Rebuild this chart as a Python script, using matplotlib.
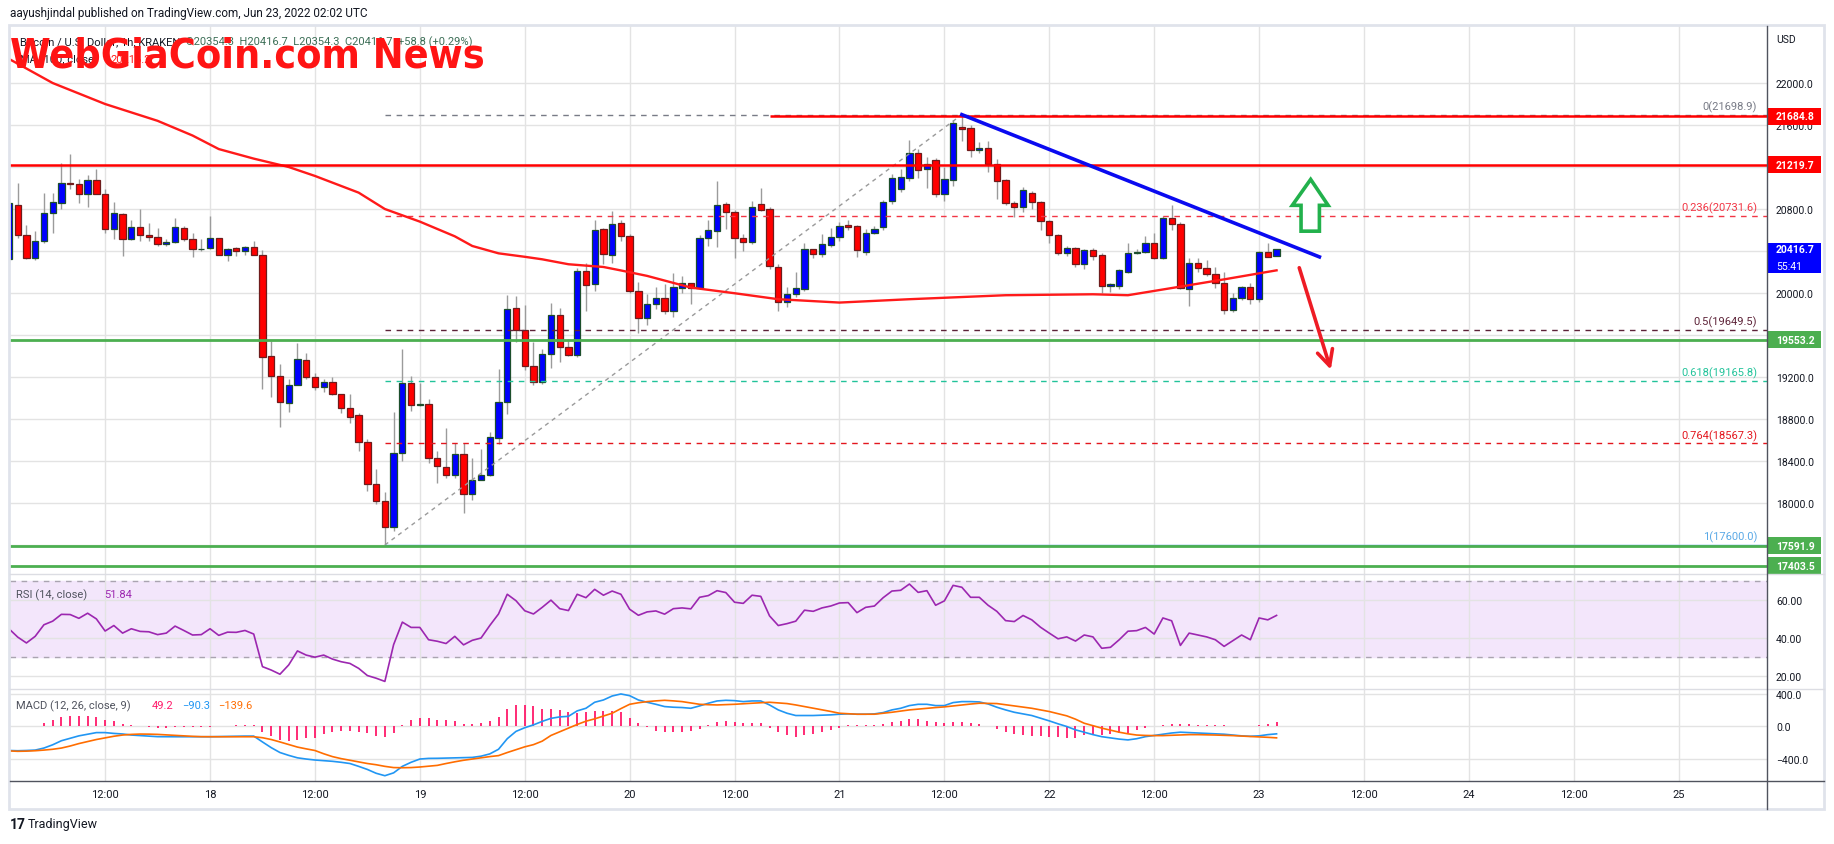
import matplotlib.pyplot as plt
import matplotlib.transforms as mtransforms
from matplotlib.patches import Rectangle, Polygon
from matplotlib.lines import Line2D
import numpy as np

W, H = 1834, 845

# ---------------- data (BTC/USD 1h, KRAKEN) ----------------
# x is hours counted from 18 Jun 2022 00:00, first candle = 17 Jun 01:00
first_hour = -23

opens = [20321, 20842, 20556, 20337, 20496, 20766, 20861, 21051, 21041, 20946,
         21077, 20946, 20613, 20756, 20512, 20632, 20550, 20537, 20464, 20489,
         20622, 20518, 20417, 20429, 20528, 20366, 20426, 20404, 20442, 20366,
         19401, 19210, 18957, 19125, 19360, 19201, 19106, 19157, 19042, 18909,
         18842, 18585, 18185, 18020, 17776, 18480, 19147, 18934, 18947, 18433,
         18347, 18268, 18465, 18090, 18220, 18268, 18623, 18966, 19858, 19648,
         19306, 19157, 19423, 19788, 19490, 19411, 20210, 20089, 20607, 20366,
         20670, 20543, 20020, 19760, 19893, 19956, 19829, 20052, 20093, 20045,
         20528, 20594, 20851, 20775, 20528, 20486, 20851, 20797, 20251, 19918,
         19994, 20036, 20416, 20375, 20458, 20537, 20651, 20639, 20394, 20575,
         20629, 20877, 20988, 21099, 21331, 21185, 21264, 20946, 21080, 21585,
         21575, 21362, 21385, 21226, 21077, 20861, 20820, 20956, 20870, 20686,
         20553, 20382, 20432, 20280, 20407, 20359, 20067, 20067, 20204, 20385,
         20394, 20480, 20337, 20712, 20661, 20036, 20290, 20242, 20185, 20099,
         19839, 19950, 20061, 19940, 20394, 20354.3]
closes = [20855, 20556, 20337, 20496, 20766, 20870, 21051, 21041, 20946, 21077,
          20946, 20613, 20766, 20518, 20632, 20550, 20537, 20464, 20489, 20632,
          20518, 20417, 20423, 20528, 20366, 20423, 20404, 20442, 20366, 19395,
          19210, 18963, 19125, 19376, 19201, 19106, 19157, 19042, 18909, 18820,
          18585, 18185, 18020, 17776, 18480, 19147, 18934, 18947, 18433, 18354,
          18268, 18465, 18090, 18220, 18268, 18633, 18966, 19852, 19648, 19306,
          19157, 19423, 19794, 19487, 19411, 20210, 20077, 20597, 20375, 20661,
          20543, 20020, 19760, 19893, 19956, 19829, 20061, 20093, 20045, 20528,
          20597, 20842, 20775, 20528, 20486, 20823, 20791, 20258, 19918, 19994,
          20052, 20416, 20375, 20471, 20537, 20639, 20632, 20410, 20575, 20613,
          20870, 21093, 21105, 21331, 21172, 21232, 20946, 21083, 21616, 21559,
          21362, 21385, 21226, 21067, 20855, 20823, 20978, 20870, 20686, 20553,
          20382, 20432, 20280, 20407, 20353, 20067, 20083, 20217, 20385, 20394,
          20474, 20337, 20712, 20661, 20045, 20290, 20242, 20185, 20099, 19839,
          19950, 20061, 19940, 20394, 20347, 20416.7]
highs = [20870, 21051, 20645, 20591, 20950, 20956, 21235, 21321, 21089, 21121,
         21185, 20994, 20870, 20760, 20696, 20804, 20664, 20616, 20512, 20718,
         20639, 20569, 20512, 20734, 20528, 20433, 20442, 20448, 20492, 20407,
         19544, 19322, 19179, 19528, 19433, 19242, 19179, 19204, 19042, 19042,
         18861, 18607, 18328, 18109, 18871, 19465, 19210, 19147, 18988, 18496,
         18719, 18576, 18576, 18433, 18519, 18681, 19274, 19982, 19972, 19883,
         19534, 19465, 19908, 19861, 19566, 20242, 20290, 20693, 20623, 20781,
         20700, 20560, 20105, 19990, 20060, 20090, 20190, 20160, 20100, 20550,
         20700, 21070, 20870, 20790, 20560, 20880, 21000, 20820, 20280, 20060,
         20200, 20480, 20420, 20560, 20620, 20680, 20700, 20650, 20610, 20640,
         20890, 21130, 21180, 21460, 21370, 21300, 21290, 21200, 21650, 21698.9,
         21600, 21440, 21450, 21280, 21090, 20880, 21010, 20970, 20880, 20700,
         20560, 20450, 20440, 20420, 20430, 20380, 20100, 20230, 20480, 20420,
         20540, 20570, 20730, 20840, 20680, 20330, 20330, 20310, 20250, 20200,
         20000, 20070, 20100, 20400, 20480, 20416.7]
lows = [20300, 20528, 20321, 20315, 20480, 20575, 20804, 20988, 20861, 20820,
        20940, 20575, 20518, 20353, 20505, 20496, 20496, 20448, 20448, 20480,
        20496, 20347, 20401, 20417, 20359, 20306, 20353, 20359, 20359, 19083,
        19010, 18725, 18868, 19125, 19179, 19077, 19058, 19026, 18861, 18766,
        18496, 18115, 17989, 17600, 17735, 18401, 18877, 18925, 18385, 18195,
        18242, 18242, 17909, 18030, 18220, 18258, 18560, 18845, 19534, 19268,
        19122, 19138, 19290, 19344, 19401, 19391, 19829, 20020, 20274, 20290,
        20500, 20004, 19623, 19700, 19850, 19800, 19770, 20000, 19900, 20040,
        20450, 20440, 20610, 20330, 20400, 20470, 20780, 20230, 19830, 19870,
        19960, 20020, 20330, 20340, 20440, 20500, 20600, 20340, 20360, 20560,
        20600, 20850, 20960, 21070, 21100, 21000, 20910, 20880, 21020, 21450,
        21300, 21330, 21150, 20900, 20840, 20720, 20770, 20800, 20600, 20480,
        20360, 20350, 20250, 20230, 20310, 20000, 20010, 20040, 20190, 20370,
        20380, 20320, 20320, 20600, 20040, 19880, 20200, 20160, 20050, 19800,
        19820, 19930, 19900, 19910, 20340, 20354.3]

# moving average (100, close), read at knots
ma_hours = [-23, -18, -12, -6, -2, 1, 5, 9, 12, 17, 20, 24, 28, 30, 33, 36, 38, 41,
            45, 47, 50, 55, 60, 65, 72, 80, 91, 101, 105, 111, 116, 122]
ma_values = [22230, 22000, 21800, 21640, 21500, 21371, 21280, 21200, 21115, 20956,
             20800, 20680, 20540, 20448, 20378, 20345, 20321, 20274, 20248, 20215,
             20163, 20052, 19998, 19941, 19909, 19941, 19979, 19988, 19979, 20061,
             20130, 20216]

rsi = [44.8, 40.4, 37.3, 40.8, 46.9, 48.8, 52.4, 52.3, 50.3, 53.0,
       50.0, 43.6, 46.5, 42.5, 44.8, 43.4, 43.2, 41.7, 42.5, 46.2,
       43.9, 41.5, 41.7, 44.8, 41.3, 43.0, 42.9, 43.9, 42.0, 24.8,
       23.0, 20.8, 25.7, 33.1, 30.9, 29.8, 30.9, 28.8, 27.4, 26.5,
       23.9, 20.1, 18.7, 17.0, 36.4, 48.3, 45.5, 45.5, 39.0, 38.2,
       37.0, 40.8, 36.3, 38.7, 39.9, 46.5, 52.6, 63.0, 59.6, 54.3,
       52.6, 56.1, 59.9, 55.4, 54.4, 63.0, 61.2, 65.6, 62.5, 64.7,
       63.0, 55.1, 51.9, 53.7, 54.2, 52.5, 55.4, 55.8, 55.3, 61.4,
       62.3, 64.9, 63.9, 58.8, 58.2, 62.5, 61.9, 51.6, 46.5, 47.5,
       48.8, 54.6, 54.0, 55.8, 56.8, 58.4, 58.6, 53.3, 56.1, 56.8,
       61.2, 64.7, 65.1, 68.4, 64.0, 64.9, 57.2, 59.5, 67.7, 66.7,
       61.4, 61.4, 57.2, 54.0, 49.1, 48.6, 51.8, 49.5, 45.6, 42.5,
       39.5, 40.5, 38.3, 41.5, 40.5, 34.5, 35.0, 39.0, 43.5, 43.8,
       45.5, 42.0, 50.5, 49.0, 36.0, 42.5, 41.5, 40.5, 39.0, 35.5,
       38.5, 41.5, 39.0, 50.5, 49.5, 51.84]

macd = [-295, -298, -295, -290, -265, -225, -175, -145, -115, -95,
        -75, -75, -85, -92, -105, -112, -118, -125, -126, -126,
        -126, -126, -126, -126, -124, -122, -120, -118, -118, -190,
        -260, -320, -355, -385, -400, -412, -420, -428, -440, -455,
        -490, -528, -575, -605, -570, -490, -440, -400, -392, -391,
        -388, -385, -382, -380, -365, -337, -280, -150, -60, -15,
        20, 63, 100, 118, 125, 192, 224, 298, 326, 375,
        400, 379, 326, 298, 273, 245, 237, 233, 224, 253,
        286, 314, 322, 318, 306, 314, 314, 265, 204, 163,
        135, 135, 135, 139, 143, 151, 155, 151, 151, 155,
        171, 204, 224, 257, 273, 273, 257, 257, 294, 306,
        306, 302, 277, 237, 204, 175, 155, 135, 102, 69,
        33, 0, -41, -70, -100, -125, -140, -155, -165, -150,
        -125, -110, -95, -80, -70, -75, -80, -85, -90, -95,
        -105, -115, -120, -115, -100, -90.3]
signal = [-300, -305, -303, -298, -290, -280, -265, -240, -210, -185,
          -160, -140, -120, -105, -97, -93, -94, -97, -103, -110,
          -116, -121, -125, -126, -126, -126, -126, -126, -126, -138,
          -160, -190, -222, -253, -275, -295, -335, -370, -395, -415,
          -435, -455, -470, -490, -505, -507, -505, -498, -488, -478,
          -455, -434, -415, -400, -385, -370, -358, -320, -285, -250,
          -223, -180, -110, -65, -20, 25, 65, 94, 128, 163,
          220, 273, 292, 306, 315, 322, 315, 306, 290, 273,
          268, 265, 269, 273, 280, 286, 292, 298, 290, 282,
          265, 245, 225, 204, 185, 163, 157, 151, 151, 151,
          163, 175, 190, 204, 214, 224, 233, 241, 253, 265,
          276, 286, 284, 282, 268, 253, 238, 224, 204, 184,
          158, 131, 90, 40, 10, -20, -45, -70, -90, -105,
          -110, -112, -112, -108, -103, -100, -100, -102, -105, -108,
          -112, -118, -123, -128, -133, -139.6]
hist = [2, 5, 5, 8, 42, 80, 114, 135, 135, 135,
        122, 84, 67, 34, 13, 4, -8, -13, -13, -4,
        -4, -4, -4, -4, 0, 4, 13, 13, 13, -72,
        -114, -160, -181, -168, -147, -139, -93, -67, -55, -51,
        -63, -80, -114, -126, -84, 17, 80, 109, 105, 84,
        76, 63, 34, 30, 42, 72, 118, 210, 261, 261,
        253, 219, 219, 198, 177, 168, 175, 190, 190, 192,
        175, 110, 41, -12, -53, -73, -73, -73, -61, -29,
        16, 53, 69, 53, 41, 41, 41, -20, -69, -110,
        -131, -102, -94, -69, -41, -16, 16, 20, 16, 20,
        33, 53, 69, 90, 90, 73, 53, 41, 53, 53,
        41, 29, 0, -33, -69, -90, -102, -114, -122, -131,
        -135, -139, -143, -110, -110, -105, -95, -85, -75, -45,
        -15, 2, 17, 28, 33, 25, 20, 17, 15, 13,
        7, 3, 3, 13, 33, 49.2]

# horizontal lines drawn on the chart
resistance = [21684.8, 21219.7]
supports = [19553.2, 17591.9, 17403.5]
fib_levels = [0, 0.236, 0.5, 0.618, 0.764, 1]
fib_prices = [21698.9, 20731.6, 19649.5, 19165.8, 18567.3, 17600.0]
fib_colors = ["#787b86", "#f23645", "#5d2338", "#22c39a", "#e3161e", "#5aa9e6"]
fib_from, fib_to = 20, 86          # swing low hour -> swing high hour
trend_hours = [86, 126.9]
trend_prices = [21698.9, 20344]

xticks = list(range(-12, 169, 12))
xtick_labels = ["12:00", "18", "12:00", "19", "12:00", "20", "12:00", "21", "12:00",
                "22", "12:00", "23", "12:00", "24", "12:00", "25"]

last_price = 20416.7
# ------------------------------------------------------------

opens, closes = np.array(opens), np.array(closes)
highs, lows = np.array(highs), np.array(lows)
hours = np.arange(first_hour, first_hour + len(opens))

plt.rcParams["font.family"] = ["Roboto", "DejaVu Sans"]
TXT = "#131722"
GRID = "#e3e3e3"


def box(x0, y0, x1, y1):
    return [x0 / W, 1 - y1 / H, (x1 - x0) / W, (y1 - y0) / H]


fig = plt.figure(figsize=(W / 100, H / 100), dpi=100)
ax = fig.add_axes(box(10, 27, 1767, 575))
ax_rsi = fig.add_axes(box(10, 575, 1767, 690), sharex=ax)
ax_macd = fig.add_axes(box(10, 690, 1767, 782), sharex=ax)

for a in (ax, ax_rsi, ax_macd):
    for s in a.spines.values():
        s.set_visible(False)
    a.yaxis.tick_right()
    a.tick_params(length=0, labelsize=7.5, labelcolor=TXT, pad=6.5)
    a.grid(True, color=GRID, lw=1)
    a.set_axisbelow(True)

ax.set_xlim(-22.88, 178.1)
ax.set_ylim(17324, 22543)
ax_rsi.set_ylim(13.0, 73.7)
ax_macd.set_ylim(-670, 461)

ax.set_xticks(xticks)
ax_macd.set_xticklabels(xtick_labels)
ax.tick_params(labelbottom=False)
ax_rsi.tick_params(labelbottom=False)
ax_macd.tick_params(axis="x", labelsize=8, pad=6)

ax.set_yticks(np.arange(17600, 22001, 400))
ax.yaxis.set_major_formatter(lambda v, p: f"{v:.1f}")
ax_rsi.set_yticks([20, 40, 60])
ax_rsi.set_yticklabels(["20.00", "40.00", "60.00"])
ax_macd.set_yticks([-400, 0, 400])
ax_macd.set_yticklabels(["\u2212400.0", "0.0", "400.0"])

# candles
up = closes >= opens
ax.vlines(hours, lows, highs, color="#9b9b9b", lw=1, zorder=2)
ax.bar(hours[up], (closes - opens)[up], bottom=opens[up], width=0.72,
       color="#0000ff", edgecolor="#1c4f2c", lw=0.9, zorder=3)
ax.bar(hours[~up], (closes - opens)[~up], bottom=opens[~up], width=0.72,
       color="#ff0000", edgecolor="#6e1c1c", lw=0.9, zorder=3)

ax.plot(ma_hours, ma_values, color="#ff1a1a", lw=1.7, zorder=4)

# support / resistance
ax.axhline(resistance[1], color="#ff0000", lw=1.8, zorder=4)
ax.hlines(resistance[0], 64, 178.1, color="#ff0000", lw=1.8, zorder=4)
for p in supports:
    ax.axhline(p, color="#4caf50", lw=2, zorder=4)

# fib retracement
ax.plot([fib_from, fib_to], [fib_prices[-1], fib_prices[0]], color="#9a9a9a",
        lw=1, ls=(0, (3, 3)), zorder=3)
for lvl, p, c in zip(fib_levels, fib_prices, fib_colors):
    ls = "-" if lvl == 1 else (0, (4, 4))
    ax.hlines(p, fib_from, 178.1, color=c, lw=1, linestyles=[ls], zorder=3.5)
    ax.annotate(f"{lvl:g}({p:.1f})", xy=(0.9943, p), xycoords=("axes fraction", "data"),
                xytext=(0, 2), textcoords="offset points", ha="right", va="bottom",
                color=c, fontsize=8)

# down-trend line and arrows
ax.plot(trend_hours, trend_prices, color="#0a0af0", lw=2.6, zorder=5)
up_arrow = [(125.9, 21082), (127.9, 20835), (126.9, 20835), (126.9, 20589),
            (124.8, 20589), (124.8, 20835), (123.8, 20835)]
ax.add_patch(Polygon(up_arrow, closed=True, fc="white", ec="#22b14c", lw=2.6, zorder=5))
ax.annotate("", xy=(128.3, 19245), xytext=(124.5, 20266),
            arrowprops=dict(arrowstyle="->", color="#ee1c25", lw=2.6, mutation_scale=28),
            zorder=5)

# price tags on the axis
tag_tr = mtransforms.blended_transform_factory(ax.transAxes, ax.transData)
px = (22543 - 17324) / 548.0


def price_tag(price, color, text=None, top=None, bottom=None):
    if top is None:
        top, bottom = price + 8.5 * px, price - 8.5 * px
    ax.add_patch(Rectangle((1.0, bottom), 0.0307, top - bottom, transform=tag_tr,
                           fc=color, ec="none", clip_on=False, zorder=6))
    ax.text(1.0051, price, text or f"{price:.1f}", transform=tag_tr, color="white",
            fontsize=7.5, fontweight="bold", va="center", ha="left", zorder=7, clip_on=False)


for p in resistance:
    price_tag(p, "#ff0000")
for p in supports:
    price_tag(p, "#4caf50")
price_tag(last_price, "#0000ff", top=last_price + 6.5 * px, bottom=last_price - 23.5 * px)
ax.text(1.0051, last_price - 17 * px, "55:41", transform=tag_tr, color="white",
        fontsize=7.5, va="center", ha="left", zorder=7, clip_on=False)

# RSI pane
ax_rsi.axhspan(30, 70, color="#f3e6fb", zorder=0)
for lvl in (30, 70):
    ax_rsi.axhline(lvl, color="#aaa4b0", lw=1, ls=(0, (4, 4)), zorder=1)
ax_rsi.plot(hours, rsi, color="#9c27b0", lw=1.2, zorder=3)

# MACD pane
ax_macd.vlines(hours, 0, hist, color="#ff1a6a", lw=1.3, zorder=2)
ax_macd.plot(hours, macd, color="#2196f3", lw=1.2, zorder=3)
ax_macd.plot(hours, signal, color="#ff6d00", lw=1.2, zorder=3)

# frame lines
def fline(x0, y0, x1, y1, **kw):
    fig.add_artist(Line2D([x0 / W, x1 / W], [1 - y0 / H, 1 - y1 / H], **kw))


fig.add_artist(Rectangle((9 / W, 1 - 810 / H), 1815 / W, 784 / H, fill=False,
                         ec="#e0e3eb", lw=2, transform=fig.transFigure))
fline(10, 575, 1824, 575, color="#dcdde3", lw=1)
fline(10, 690, 1824, 690, color="#dcdde3", lw=1)
fline(10, 782, 1824, 782, color="#50535e", lw=1)
fline(1767, 27, 1767, 810, color="#50535e", lw=1)

# texts
fig.text(10 / W, 1 - 13 / H, "aayushjindal published on TradingView.com, Jun 23, 2022 02:02 UTC",
         fontsize=8.5, color=TXT, va="center")
fig.text(1776 / W, 1 - 40 / H, "USD", fontsize=7.5, color=TXT, va="center")
fig.text(20 / W, 1 - 42 / H, "Bitcoin / U.S. Dollar, 1h, KRAKEN", fontsize=8, color=TXT, va="center")
fig.text(186 / W, 1 - 42 / H, "O20354.3  H20416.7  L20354.3  C20416.7  +58.8 (+0.29%)",
         fontsize=8, color="#3d6f57", va="center")
fig.text(20 / W, 1 - 60 / H, "MA (100, close)", fontsize=8, color=TXT, va="center")
fig.text(110 / W, 1 - 60 / H, "20216.2", fontsize=8, color="#ff1a1a", va="center")

# watermark: a condensed heavy face, shrunk to the width it has in the reference
wm = fig.text(10 / W, 1 - 56 / H, "WebGiaCoin.com News", fontsize=40, fontweight="bold",
              fontstretch="condensed", color="#ff1414", va="center", ha="left",
              family=["Liberation Sans Narrow", "DejaVu Sans"], zorder=10)
fig.canvas.draw()
wm_width = wm.get_window_extent().width
if wm_width > 474:
    wm.set_fontsize(40 * 474 / wm_width)

fig.text(16 / W, 1 - 595 / H, "RSI (14, close)", fontsize=8, color="#50535e", va="center")
fig.text(104 / W, 1 - 595 / H, "51.84", fontsize=8, color="#9c27b0", va="center")
fig.text(16 / W, 1 - 706 / H, "MACD (12, 26, close, 9)", fontsize=8, color="#50535e", va="center")
fig.text(152 / W, 1 - 706 / H, "49.2", fontsize=8, color="#ff1a6a", va="center")
fig.text(182 / W, 1 - 706 / H, "\u221290.3", fontsize=8, color="#2196f3", va="center")
fig.text(218 / W, 1 - 706 / H, "\u2212139.6", fontsize=8, color="#ff6d00", va="center")

fig.text(10 / W, 1 - 825 / H, "17", fontsize=10, fontweight="bold", color="#131722", va="center")
fig.text(28 / W, 1 - 825 / H, "TradingView", fontsize=9, color="#131722", va="center")

fig.savefig("out.png", dpi=100, facecolor="white")
